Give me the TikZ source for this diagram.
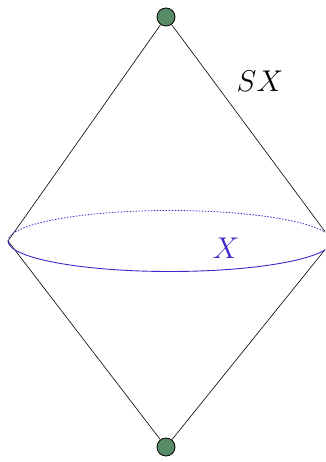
\RequirePackage{fix-cm}
\documentclass[tikz,border=0pt]{standalone}
\begin{document}
\begin{tikzpicture}[x=1pt,y=-1pt,
  vert/.style={circle,draw=black,fill=vgreen,minimum size=18pt,inner sep=0pt,line width=0.8pt},
  edge/.style={draw=black,line width=0.6pt},
  lab/.style={font=\fontsize{30}{34}\selectfont}]
\definecolor{vgreen}{RGB}{88,140,102}
\definecolor{xblue}{RGB}{60,40,200}
\useasboundingbox (0,0) rectangle (325,462);
\clip (0,0) rectangle (325,462);
\node[vert] (top) at (166,17) {};
\node[vert] (bot) at (166,447) {};
\coordinate (L) at (8,241);
\coordinate (R) at (332,241);
\draw[edge] (top) -- (L);
\draw[edge] (top) -- (R);
\draw[edge] (bot) -- (L);
\draw[edge] (bot) -- (R);
\draw[xblue,line width=0.9pt] (L) arc[start angle=180,end angle=360,x radius=162,y radius=-30.5];
\draw[xblue,line width=0.8pt,dash pattern=on 1.5pt off 1.5pt] (L) arc[start angle=180,end angle=0,x radius=162,y radius=-30.5];
\node[lab,text=xblue] (X) at (226,248) {$X$};
\node[lab] (SX) at (260,81) {$SX$};
\end{tikzpicture}
\end{document}
